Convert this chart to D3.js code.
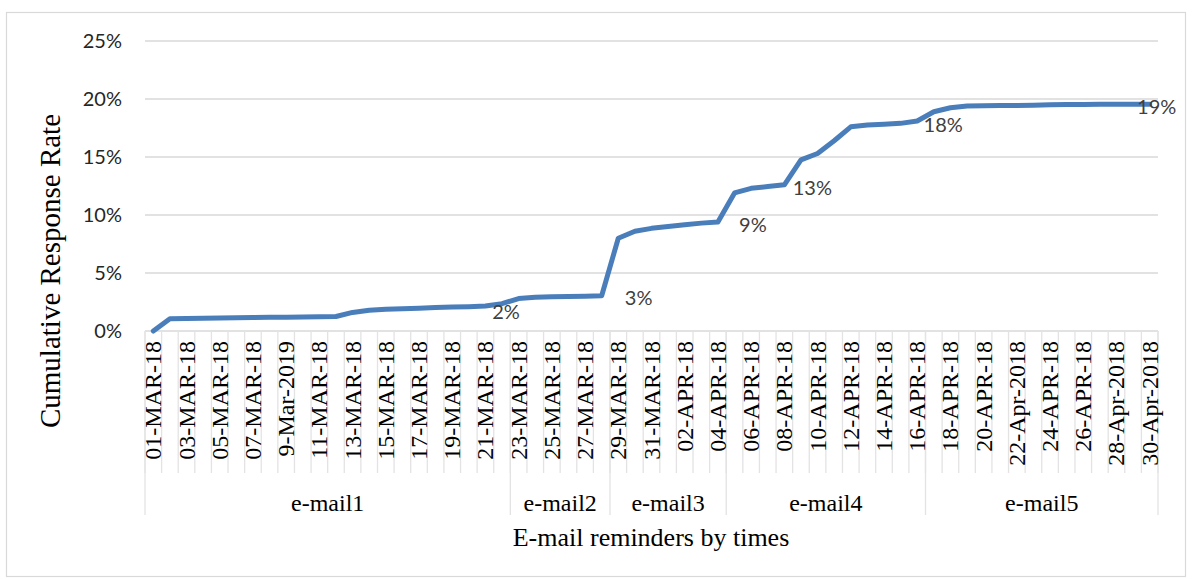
<!DOCTYPE html>
<html><head><meta charset="utf-8">
<script src="https://cdn.jsdelivr.net/npm/d3@7"></script>
<style>html,body{margin:0;padding:0;background:#fff;}</style>
</head><body>
<svg id="chart" width="1193" height="579"></svg>
<script>
// ---- data ----
const categories = [
 "01-MAR-18","02-MAR-18","03-MAR-18","04-MAR-18","05-MAR-18","06-MAR-18","07-MAR-18","08-MAR-18","9-Mar-2019","10-MAR-18",
 "11-MAR-18","12-MAR-18","13-MAR-18","14-MAR-18","15-MAR-18","16-MAR-18","17-MAR-18","18-MAR-18","19-MAR-18","20-MAR-18",
 "21-MAR-18","22-MAR-18","23-MAR-18","24-MAR-18","25-MAR-18","26-MAR-18","27-MAR-18","28-MAR-18","29-MAR-18","30-MAR-18",
 "31-MAR-18","01-APR-18","02-APR-18","03-APR-18","04-APR-18","05-APR-18","06-APR-18","07-APR-18","08-APR-18","09-APR-18",
 "10-APR-18","11-APR-18","12-APR-18","13-APR-18","14-APR-18","15-APR-18","16-APR-18","17-APR-18","18-APR-18","19-APR-18",
 "20-APR-18","21-APR-18","22-Apr-2018","23-APR-18","24-APR-18","25-APR-18","26-APR-18","27-APR-18","28-Apr-2018","29-APR-18",
 "30-Apr-2018"];
const responseRate = [
 0.0,1.05,1.08,1.10,1.12,1.15,1.17,1.18,1.19,1.20,
 1.22,1.25,1.60,1.78,1.87,1.92,1.97,2.02,2.06,2.10,
 2.15,2.35,2.80,2.90,2.95,2.98,3.00,3.04,8.00,8.60,
 8.85,9.00,9.15,9.30,9.40,11.90,12.30,12.45,12.60,14.75,
 15.30,16.40,17.60,17.75,17.82,17.90,18.10,18.90,19.25,19.40,
 19.42,19.45,19.45,19.47,19.50,19.52,19.53,19.55,19.55,19.55,
 19.55];
const groupNames = ["e-mail1","e-mail2","e-mail3","e-mail4","e-mail5"];
const groupStart = ["01-MAR-18","23-MAR-18","29-MAR-18","05-APR-18","17-APR-18"];
const groupEnd   = ["22-MAR-18","28-MAR-18","04-APR-18","16-APR-18","30-Apr-2018"];
const yTicks = [0,5,10,15,20,25];
const labelCats = ["22-MAR-18","28-MAR-18","04-APR-18","08-APR-18","16-APR-18","30-Apr-2018"];
const labelTexts = ["2%","3%","9%","13%","18%","19%"];
const yTitle = "Cumulative Response Rate";
const xTitle = "E-mail reminders by times";

// ---- layout ----
const svg = d3.select("#chart");
const L = 145, R = 1158, T = 41, B = 331;
const x = d3.scaleBand().domain(categories).range([L, R]).padding(0);
const y = d3.scaleLinear().domain([0,25]).range([B, T]);
const bw = x.bandwidth();
const cx = c => x(c) + bw/2;

// outer border
svg.append("rect").attr("x",6.5).attr("y",12.5).attr("width",1179).attr("height",564)
  .attr("fill","none").attr("stroke","#d9d9d9").attr("stroke-width",1.2);

// gridlines
svg.append("g").selectAll("line").data(yTicks).join("line")
  .attr("x1",L).attr("x2",R).attr("y1",d=>y(d)).attr("y2",d=>y(d))
  .attr("stroke","#d9d9d9").attr("stroke-width",1.3);

// y tick labels
svg.append("g").selectAll("text").data(yTicks).join("text")
  .attr("x",122).attr("y",d=>y(d)).attr("dy","0.36em").attr("text-anchor","end")
  .attr("font-family","Lato, 'Open Sans', sans-serif").attr("font-size",20).attr("fill","#262626")
  .text(d=>d+"%");

// category tick lines (band boundaries)
const bounds = categories.map(c=>x(c)).concat([R]);
svg.append("g").selectAll("line").data(bounds).join("line")
  .attr("x1",d=>d).attr("x2",d=>d).attr("y1",B).attr("y2",473)
  .attr("stroke","#e3e3e3").attr("stroke-width",1.3);

// group boundaries
const gb = groupStart.map(c=>x(c)).concat([R]);
svg.append("g").selectAll("line").data(gb).join("line")
  .attr("x1",d=>d).attr("x2",d=>d).attr("y1",B).attr("y2",515)
  .attr("stroke","#e3e3e3").attr("stroke-width",1.3);

// category labels (every other)
svg.append("g").selectAll("text").data(categories.filter((c,i)=>i%2===0)).join("text")
  .attr("transform",d=>`translate(${cx(d)+8},341) rotate(-90)`)
  .attr("text-anchor","end")
  .attr("font-family","'Liberation Serif','Times New Roman',serif").attr("font-size",24).attr("fill","#000")
  .text(d=>d);

// group labels
svg.append("g").selectAll("text").data(groupNames).join("text")
  .attr("x",(d,i)=>(x(groupStart[i]) + x(groupEnd[i]) + bw)/2)
  .attr("y",511).attr("text-anchor","middle")
  .attr("font-family","'Liberation Serif','Times New Roman',serif").attr("font-size",24).attr("fill","#000")
  .text(d=>d);

// line
const line = d3.line().x((d,i)=>cx(categories[i])).y(d=>y(d));
svg.append("path").datum(responseRate).attr("d",line)
  .attr("fill","none").attr("stroke","#4a7ebb").attr("stroke-width",5)
  .attr("stroke-linejoin","round").attr("stroke-linecap","round");

// data labels
const lblOff = [[4,8],[37,2],[35,3],[28,3],[26,4],[7,3]];
svg.append("g").selectAll("text").data(labelCats).join("text")
  .attr("x",(d,i)=>cx(d)+lblOff[i][0])
  .attr("y",(d,i)=>y(responseRate[categories.indexOf(d)])+lblOff[i][1])
  .attr("dy","0.36em").attr("text-anchor","middle")
  .attr("font-family","Lato, 'Open Sans', sans-serif").attr("font-size",20).attr("fill","#404040")
  .text((d,i)=>labelTexts[i]);

// axis titles
svg.append("text").attr("transform","translate(60,271) rotate(-90)").attr("text-anchor","middle")
  .attr("font-family","'Liberation Serif','Times New Roman',serif").attr("font-size",29).attr("fill","#000")
  .text(yTitle);
svg.append("text").attr("x",651).attr("y",546).attr("text-anchor","middle")
  .attr("font-family","'Liberation Serif','Times New Roman',serif").attr("font-size",26).attr("fill","#000")
  .text(xTitle);
</script>
</body></html>
